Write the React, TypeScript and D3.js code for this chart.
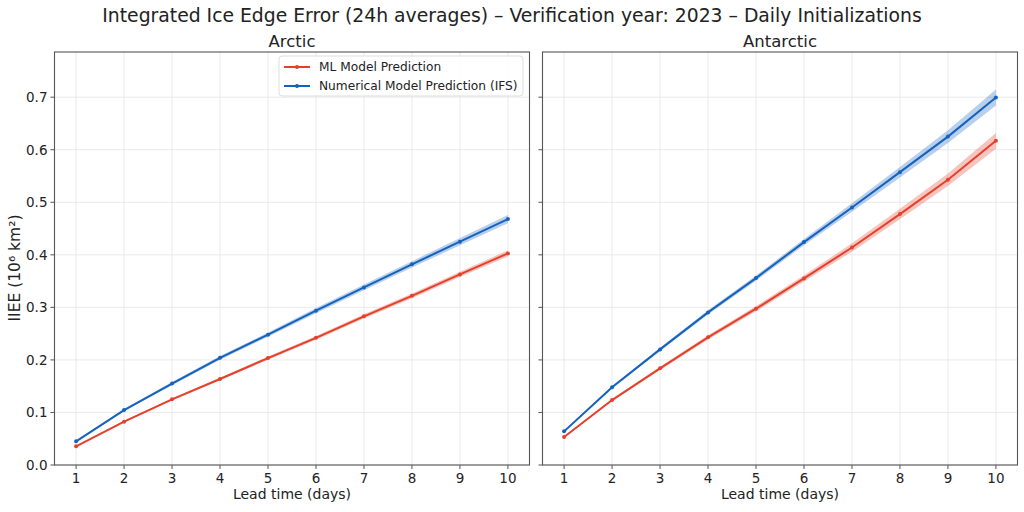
import React from "react";
import * as d3 from "d3";

const leadDays = [1, 2, 3, 4, 5, 6, 7, 8, 9, 10];
const yTicks = [0.0, 0.1, 0.2, 0.3, 0.4, 0.5, 0.6, 0.7];

const arcticML = [0.0355, 0.0824, 0.125, 0.1636, 0.2035, 0.242, 0.283, 0.322, 0.3627, 0.4027];
const arcticMLErr = [0.001, 0.0015, 0.002, 0.0025, 0.003, 0.0035, 0.004, 0.0045, 0.005, 0.006];
const arcticIFS = [0.045, 0.1046, 0.155, 0.204, 0.248, 0.2936, 0.338, 0.382, 0.425, 0.468];
const arcticIFSErr = [0.001, 0.002, 0.003, 0.0035, 0.004, 0.005, 0.0055, 0.006, 0.007, 0.008];

const antarcticML = [0.0533, 0.1236, 0.184, 0.243, 0.2974, 0.355, 0.414, 0.4775, 0.5428, 0.617];
const antarcticMLErr = [0.0015, 0.002, 0.003, 0.004, 0.005, 0.006, 0.008, 0.01, 0.012, 0.015];
const antarcticIFS = [0.064, 0.1478, 0.22, 0.2904, 0.3557, 0.4242, 0.49, 0.5573, 0.625, 0.6994];
const antarcticIFSErr = [0.0015, 0.002, 0.003, 0.004, 0.005, 0.006, 0.008, 0.01, 0.012, 0.015];

const RED = "#e5402a";
const BLUE = "#1562be";
const FONT = "DejaVu Sans, sans-serif";

type Series = { vals: number[]; err: number[]; color: string };

function Panel({ left, title, series, showYLabels, showLegend }: { left: number; title: string; series: Series[]; showYLabels: boolean; showLegend: boolean }) {
  const width = 475;
  const top = 52;
  const bottom = 465;
  const x = d3.scaleLinear().domain([0.55, 10.45]).range([left, left + width]);
  const y = d3.scaleLinear().domain([0, 0.786]).range([bottom, top]);
  const line = d3.line<number>().x((_, i) => x(leadDays[i])).y((v) => y(v));
  return (
    <g>
      <text x={left + width / 2} y={47} textAnchor="middle" fontSize={16.5} fontFamily={FONT} fill="#222">{title}</text>
      {leadDays.map((d) => (
        <line key={"gx" + d} x1={x(d)} x2={x(d)} y1={top} y2={bottom} stroke="#e5e5e5" strokeWidth={0.8} />
      ))}
      {yTicks.map((t) => (
        <line key={"gy" + t} x1={left} x2={left + width} y1={y(t)} y2={y(t)} stroke="#e5e5e5" strokeWidth={0.8} />
      ))}
      {series.map((s, k) => {
        const area = d3
          .area<number>()
          .x((_, i) => x(leadDays[i]))
          .y0((v, i) => y(v - s.err[i]))
          .y1((v, i) => y(v + s.err[i]));
        return (
          <g key={k}>
            <path d={area(s.vals) || ""} fill={s.color} fillOpacity={0.3} stroke="none" />
            <path d={line(s.vals) || ""} fill="none" stroke={s.color} strokeWidth={2} />
            {s.vals.map((v, i) => (
              <circle key={i} cx={x(leadDays[i])} cy={y(v)} r={2} fill={s.color} />
            ))}
          </g>
        );
      })}
      <rect x={left} y={top} width={width} height={bottom - top} fill="none" stroke="#555" strokeWidth={1.1} />
      {leadDays.map((d) => (
        <g key={"tx" + d}>
          <line x1={x(d)} x2={x(d)} y1={bottom} y2={bottom + 4} stroke="#555" />
          <text x={x(d)} y={bottom + 18} textAnchor="middle" fontSize={13.5} fontFamily={FONT} fill="#222">{d}</text>
        </g>
      ))}
      {yTicks.map((t) => (
        <g key={"ty" + t}>
          <line x1={left - 4} x2={left} y1={y(t)} y2={y(t)} stroke="#555" />
          {showYLabels && (
            <text x={left - 7} y={y(t) + 5} textAnchor="end" fontSize={13.5} fontFamily={FONT} fill="#222">{t.toFixed(1)}</text>
          )}
        </g>
      ))}
      <text x={left + width / 2} y={bottom + 34} textAnchor="middle" fontSize={14} fontFamily={FONT} fill="#222">Lead time (days)</text>
      {showLegend && (
        <g>
          <rect x={279} y={56} width={244} height={40} rx={3} fill="white" fillOpacity={0.85} stroke="#ddd" />
          {[
            { label: "ML Model Prediction", color: RED },
            { label: "Numerical Model Prediction (IFS)", color: BLUE },
          ].map((l, i) => (
            <g key={i}>
              <line x1={284} x2={310} y1={67 + i * 19} y2={67 + i * 19} stroke={l.color} strokeWidth={2} />
              <circle cx={297} cy={67 + i * 19} r={2} fill={l.color} />
              <text x={319} y={71 + i * 19} fontSize={12.2} fontFamily={FONT} fill="#222">{l.label}</text>
            </g>
          ))}
        </g>
      )}
    </g>
  );
}

export default function App() {
  return (
    <svg width={1024} height={512} style={{ position: "absolute", left: 0, top: 0, background: "white" }}>
      <rect x={0} y={0} width={1024} height={512} fill="white" />
      <text x={512} y={22} textAnchor="middle" fontSize={18.8} fontFamily={FONT} fill="#222">
        Integrated Ice Edge Error (24h averages) – Verification year: 2023 – Daily Initializations
      </text>
      <text transform="translate(20,268) rotate(-90)" textAnchor="middle" fontSize={15.5} fontFamily={FONT} fill="#222">
        IIEE (10⁶ km²)
      </text>
      <Panel
        left={54.5}
        title="Arctic"
        showYLabels={true}
        showLegend={true}
        series={[
          { vals: arcticML, err: arcticMLErr, color: RED },
          { vals: arcticIFS, err: arcticIFSErr, color: BLUE },
        ]}
      />
      <Panel
        left={542.5}
        title="Antarctic"
        showYLabels={false}
        showLegend={false}
        series={[
          { vals: antarcticML, err: antarcticMLErr, color: RED },
          { vals: antarcticIFS, err: antarcticIFSErr, color: BLUE },
        ]}
      />
    </svg>
  );
}
